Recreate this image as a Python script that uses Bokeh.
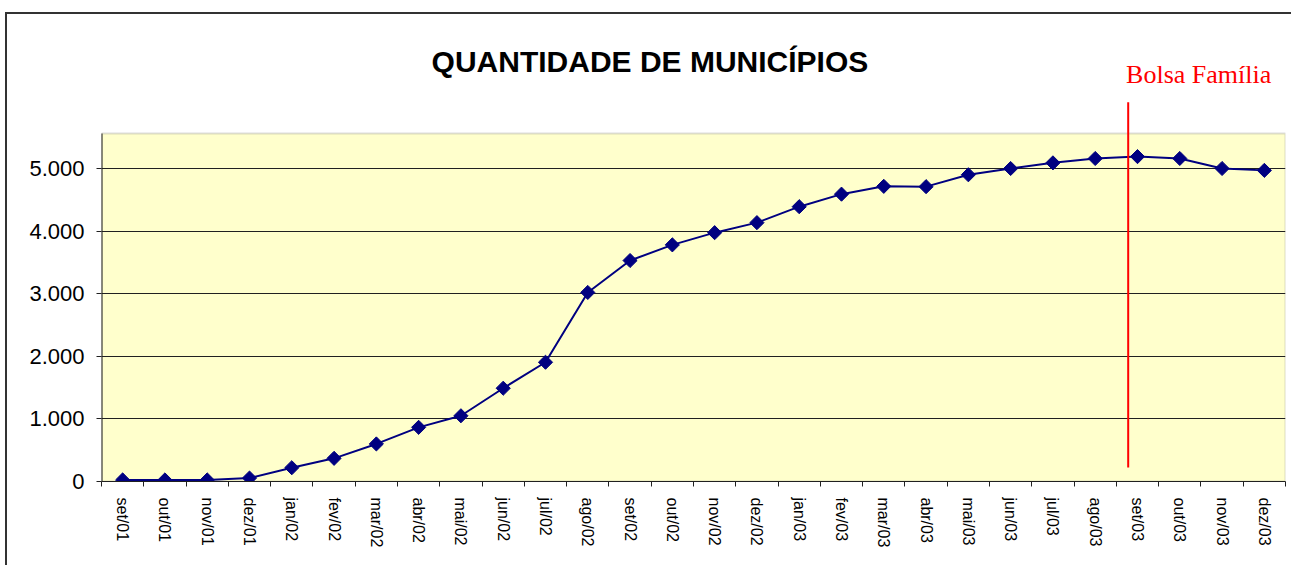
import numpy as np
from bokeh.plotting import figure
from bokeh.models import Range1d, FixedTicker, BoxAnnotation, Label
from bokeh.embed import file_html
from bokeh.resources import INLINE

months = ["set/01", "out/01", "nov/01", "dez/01",
          "jan/02", "fev/02", "mar/02", "abr/02", "mai/02", "jun/02",
          "jul/02", "ago/02", "set/02", "out/02", "nov/02", "dez/02",
          "jan/03", "fev/03", "mar/03", "abr/03", "mai/03", "jun/03",
          "jul/03", "ago/03", "set/03", "out/03", "nov/03", "dez/03"]
municipios = [25, 25, 25, 55,
              220, 370, 600, 865, 1050, 1490,
              1905, 3020, 3530, 3780, 3975, 4135,
              4390, 4590, 4715, 4710, 4900, 5000,
              5090, 5160, 5190, 5160, 5000, 4970]
y_ticks = [0, 1000, 2000, 3000, 4000, 5000]
y_tick_labels = ["0", "1.000", "2.000", "3.000", "4.000", "5.000"]
title_text = "QUANTIDADE DE MUNICÍPIOS"
event_label = "Bolsa Família"

n = len(months)
xs = [i + 0.5 for i in range(n)]
PLOT_TOP = 5560
Y_END = 7460
EVENT_X = 24.28

p = figure(width=1286, height=553, x_range=Range1d(0, n), y_range=Range1d(0, Y_END),
           output_backend="svg", toolbar_location=None,
           min_border_left=94, min_border_right=8, min_border_bottom=86, min_border_top=0)
p.styles = {"border-top": "2px solid #333333", "border-left": "2px solid #333333",
            "margin-top": "12px", "margin-left": "5px"}
p.background_fill_color = "white"
p.border_fill_color = "white"
p.outline_line_color = None

# plot area
p.add_layout(BoxAnnotation(left=0, right=n, bottom=0, top=PLOT_TOP, fill_color="#FFFFCC",
                           fill_alpha=1, line_color="#8C8C8C", line_width=2, level="image"))

p.xgrid.visible = False
p.ygrid.ticker = FixedTicker(ticks=y_ticks)
p.ygrid.grid_line_color = "#202020"
p.ygrid.grid_line_width = 1

# y axis
p.yaxis.ticker = FixedTicker(ticks=y_ticks, minor_ticks=[])
p.yaxis.major_label_overrides = {t: l for t, l in zip(y_ticks, y_tick_labels)}
p.yaxis.axis_line_color = None
p.yaxis.major_tick_out = 5
p.yaxis.major_tick_in = 0
p.yaxis.major_tick_line_color = "#202020"
p.yaxis.major_label_standoff = 12
p.yaxis.major_label_text_font = "Liberation Sans"
p.yaxis.major_label_text_font_size = "22px"
p.yaxis.major_label_text_color = "black"
p.segment(x0=[0], y0=[0], x1=[0], y1=[PLOT_TOP], line_color="#202020", line_width=2)

# x axis
p.xaxis.ticker = FixedTicker(ticks=xs, minor_ticks=list(range(n + 1)))
p.xaxis.major_label_overrides = {x: m for x, m in zip(xs, months)}
p.xaxis.major_label_orientation = "vertical"
p.xaxis.major_tick_out = 0
p.xaxis.major_tick_in = 0
p.xaxis.minor_tick_out = 5
p.xaxis.minor_tick_in = 0
p.xaxis.minor_tick_line_color = "#202020"
p.xaxis.axis_line_color = "#202020"
p.xaxis.major_label_standoff = 11
p.xaxis.major_label_text_font = "Liberation Sans"
p.xaxis.major_label_text_font_size = "16px"
p.xaxis.major_label_text_color = "black"

# series
p.line(xs, municipios, line_color="#000080", line_width=2)
p.scatter(xs, municipios, marker="square", angle=np.pi / 4, size=10,
          fill_color="#000080", line_color="#000080")

# event marker
p.segment(x0=[EVENT_X], y0=[224], x1=[EVENT_X], y1=[6060], line_color="#FF0000", line_width=2)
p.add_layout(Label(x=EVENT_X - 0.05, y=6507, text=event_label, text_color="#FF0000",
                   text_font="Liberation Serif", text_font_size="26px", text_align="left",
                   text_baseline="alphabetic"))

# title
p.add_layout(Label(x=12.97, y=6717, text=title_text, text_color="black",
                   text_font="Liberation Sans", text_font_style="bold", text_font_size="30px",
                   text_align="center", text_baseline="alphabetic"))

open("out.html", "w").write(file_html(p, INLINE))
